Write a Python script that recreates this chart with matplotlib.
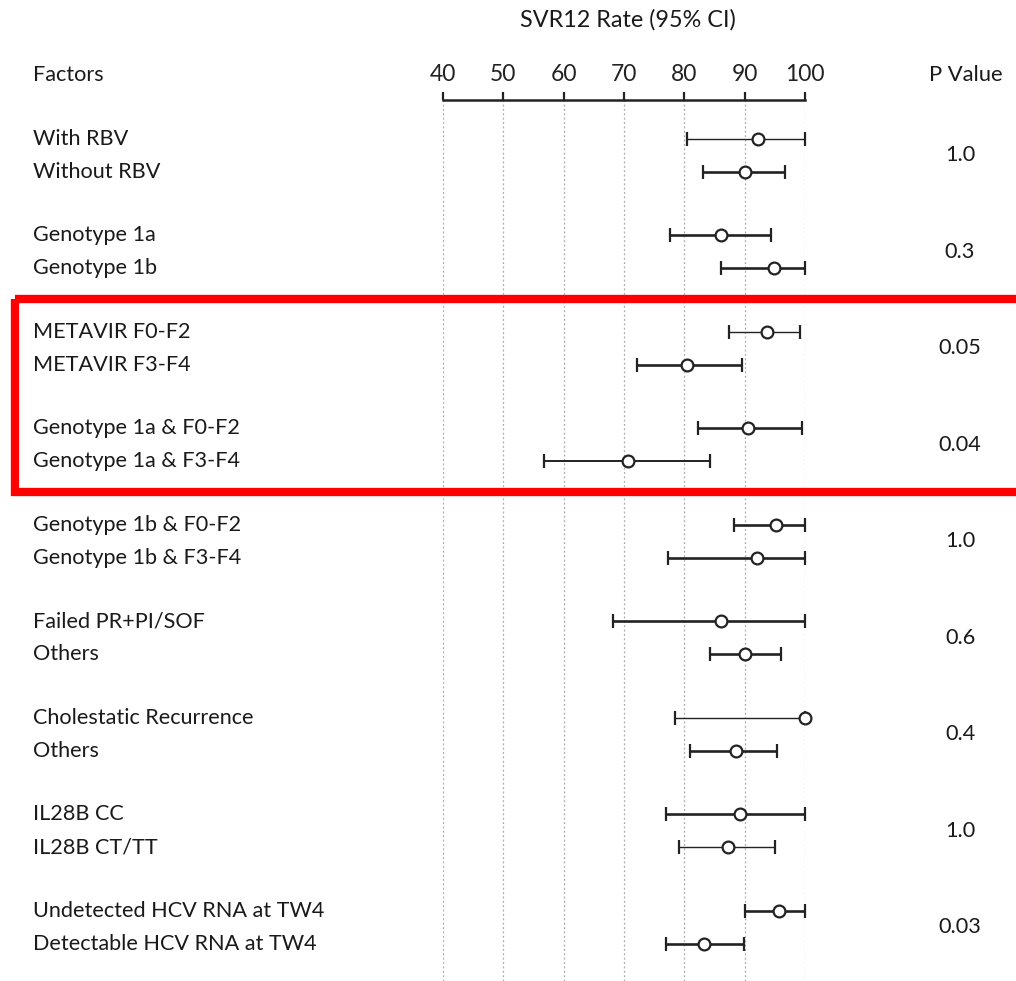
import matplotlib.pyplot as plt
import matplotlib.transforms as mtransforms
from matplotlib.patches import Rectangle
import numpy as np

plt.rcParams['font.family'] = ['Lato', 'DejaVu Sans']

# data
labels = ["With RBV", "Without RBV",
          "Genotype 1a", "Genotype 1b",
          "METAVIR F0-F2", "METAVIR F3-F4",
          "Genotype 1a & F0-F2", "Genotype 1a & F3-F4",
          "Genotype 1b & F0-F2", "Genotype 1b & F3-F4",
          "Failed PR+PI/SOF", "Others",
          "Cholestatic Recurrence", "Others",
          "IL28B CC", "IL28B CT/TT",
          "Undetected HCV RNA at TW4", "Detectable HCV RNA at TW4"]
svr12 = [92.1, 90.0, 86.1, 94.9, 93.6, 80.4, 90.6, 70.6, 95.2, 92.0,
         86.1, 90.0, 100.0, 88.6, 89.2, 87.2, 95.7, 83.2]
ci_low = [80.4, 83.0, 77.6, 86.0, 87.4, 72.1, 82.2, 56.8, 88.2, 77.2,
          68.1, 84.2, 78.4, 80.9, 77.0, 79.1, 90.0, 77.0]
ci_high = [100, 96.7, 94.4, 100, 99.2, 89.6, 99.5, 84.2, 100, 100,
           100, 95.9, 100, 95.3, 100, 95.0, 100, 89.9]
p_values = ["1.0", "0.3", "0.05", "0.04", "1.0", "0.6", "0.4", "1.0", "0.03"]
line_w = [1.0, 1.9, 1.9, 1.9, 1.0, 1.9, 1.9, 1.4, 1.9, 1.9,
          1.9, 1.9, 1.0, 1.9, 1.9, 1.0, 1.9, 1.9]

W, H = 1016, 981
fig = plt.figure(figsize=(W / 100, H / 100), dpi=100)
# axes spans from the axis line (y=100px) to the bottom, x 40..100
x0, x1 = 442.7, 805.3
ax = fig.add_axes([x0 / W, 0, (x1 - x0) / W, 1 - 100 / H])

n_groups = len(p_values)
group_y = np.arange(n_groups)
row_y = np.ravel(np.column_stack([group_y - 0.171, group_y + 0.171]))

for i in range(len(labels)):
    ax.errorbar(svr12[i], row_y[i],
                xerr=[[svr12[i] - ci_low[i]], [ci_high[i] - svr12[i]]],
                fmt='o', color='#222222', ecolor='#222222', elinewidth=line_w[i],
                capsize=5, capthick=line_w[i], markersize=8.5,
                markerfacecolor='white', markeredgecolor='#222222',
                markeredgewidth=1.6, zorder=3, clip_on=False)

ax.set_xlim(40, 100)
ax.set_ylim(8.557, -0.573)
ax.set_xticks([40, 50, 60, 70, 80, 90, 100])
ax.xaxis.tick_top()
ax.tick_params(axis='x', direction='out', length=6, width=1.6,
               labelsize=16.5, pad=5, colors='#222222')
ax.set_yticks([])
for s in ['left', 'right', 'bottom']:
    ax.spines[s].set_visible(False)
ax.spines['top'].set_linewidth(1.8)
ax.spines['top'].set_color('#222222')
ax.grid(axis='x', linestyle=(0, (1.5, 2)), color='#aaaaaa', linewidth=0.9)

# left labels and p values
trans = mtransforms.blended_transform_factory(fig.transFigure, ax.transData)
for i, lab in enumerate(labels):
    ax.text(33 / W, row_y[i], lab, transform=trans, ha='left', va='center',
            fontsize=15.6, color='#1a1a1a')
for g, p in enumerate(p_values):
    ax.text(960 / W, group_y[g], p, transform=trans, ha='center', va='center',
            fontsize=15.6, color='#1a1a1a')

fig.text(33 / W, 1 - 75 / H, "Factors", ha='left', va='center', fontsize=15.6,
         color='#1a1a1a')
fig.text(966 / W, 1 - 75 / H, "P Value", ha='center', va='center', fontsize=15.8,
         color='#1a1a1a')
fig.text(628 / W, 1 - 20 / H, "SVR12 Rate (95% CI)", ha='center', va='center',
         fontsize=16.8, color='#1a1a1a')

# red highlight box
box = Rectangle((15 / W, 1.49), 1.1, 1.995, transform=trans, fill=False,
                edgecolor='#ff0000', linewidth=6, clip_on=False, zorder=5)
ax.add_patch(box)

fig.savefig("out.png", dpi=100)
